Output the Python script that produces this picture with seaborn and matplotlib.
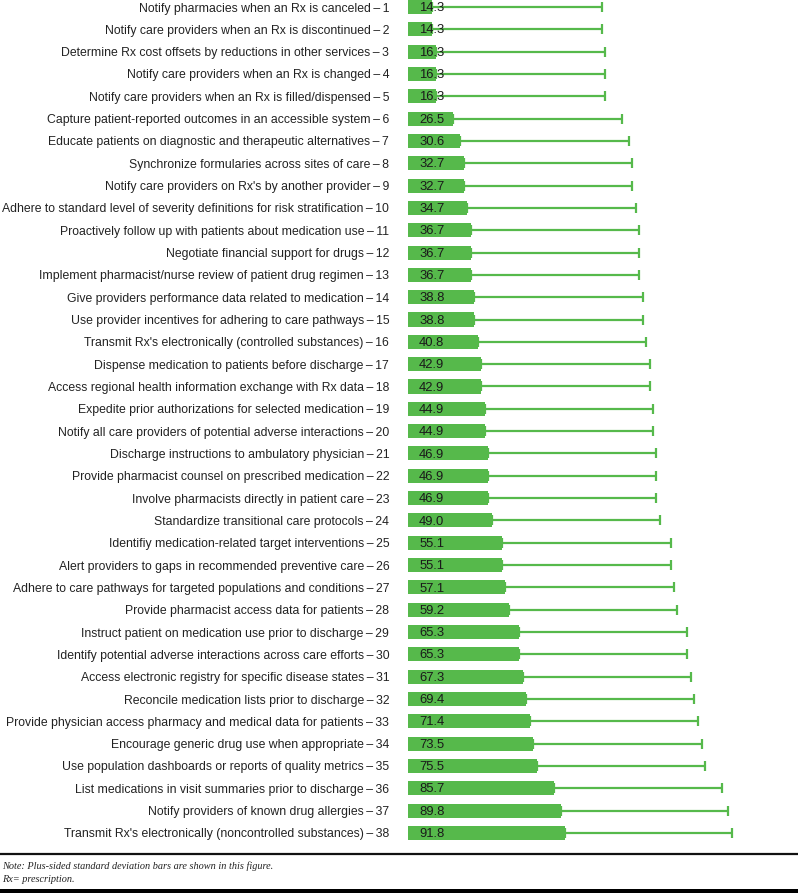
import seaborn as sns
import pandas as pd
import matplotlib.pyplot as plt

activities = [
    "Notify pharmacies when an Rx is canceled",
    "Notify care providers when an Rx is discontinued",
    "Determine Rx cost offsets by reductions in other services",
    "Notify care providers when an Rx is changed",
    "Notify care providers when an Rx is filled/dispensed",
    "Capture patient-reported outcomes in an accessible system",
    "Educate patients on diagnostic and therapeutic alternatives",
    "Synchronize formularies across sites of care",
    "Notify care providers on Rx's by another provider",
    "Adhere to standard level of severity definitions for risk stratification",
    "Proactively follow up with patients about medication use",
    "Negotiate financial support for drugs",
    "Implement pharmacist/nurse review of patient drug regimen",
    "Give providers performance data related to medication",
    "Use provider incentives for adhering to care pathways",
    "Transmit Rx's electronically (controlled substances)",
    "Dispense medication to patients before discharge",
    "Access regional health information exchange with Rx data",
    "Expedite prior authorizations for selected medication",
    "Notify all care providers of potential adverse interactions",
    "Discharge instructions to ambulatory physician",
    "Provide pharmacist counsel on prescribed medication",
    "Involve pharmacists directly in patient care",
    "Standardize transitional care protocols",
    "Identifiy medication-related target interventions",
    "Alert providers to gaps in recommended preventive care",
    "Adhere to care pathways for targeted populations and conditions",
    "Provide pharmacist access data for patients",
    "Instruct patient on medication use prior to discharge",
    "Identify potential adverse interactions across care efforts",
    "Access electronic registry for specific disease states",
    "Reconcile medication lists prior to discharge",
    "Provide physician access pharmacy and medical data for patients",
    "Encourage generic drug use when appropriate",
    "Use population dashboards or reports of quality metrics",
    "List medications in visit summaries prior to discharge",
    "Notify providers of known drug allergies",
    "Transmit Rx's electronically (noncontrolled substances)",
]
percent = [14.3, 14.3, 16.3, 16.3, 16.3, 26.5, 30.6, 32.7, 32.7, 34.7,
           36.7, 36.7, 36.7, 38.8, 38.8, 40.8, 42.9, 42.9, 44.9, 44.9,
           46.9, 46.9, 46.9, 49.0, 55.1, 55.1, 57.1, 59.2, 65.3, 65.3,
           67.3, 69.4, 71.4, 73.5, 75.5, 85.7, 89.8, 91.8]
std_dev = [99.3, 99.3, 99.2, 99.2, 99.2, 99.2, 99.0, 98.7, 98.7, 99.0,
           98.8, 98.8, 98.8, 99.2, 99.2, 98.6, 99.2, 99.2, 99.0, 99.0,
           98.7, 98.7, 98.7, 99.0, 99.0, 99.0, 99.1, 98.4, 98.3, 98.3,
           98.7, 98.5, 98.5, 98.8, 98.7, 98.3, 98.1, 98.1]

labels = [f"{a}\u2009\u2013\u2009{i + 1}" for i, a in enumerate(activities)]
df = pd.DataFrame({"label": labels, "percent": percent, "sd": std_dev})

green = "#56b94b"
sns.set_style("white")
plt.rcParams["font.family"] = ["Liberation Sans", "DejaVu Sans"]

fig = plt.figure(figsize=(7.98, 8.93), dpi=100)
W, H = 798, 893
# axes: bars start at x=408 px, rows from top to ~845 px
ax = fig.add_axes([408 / W, 1 - 845 / H, (W - 408) / W, 845 / H])

sns.barplot(data=df, x="percent", y="label", orient="h", color=green,
            width=0.63, saturation=1, linewidth=0, ax=ax)
ypos = ax.get_yticks()
ax.errorbar(df["percent"], ypos, xerr=[[0] * len(df), df["sd"]], fmt="none",
            ecolor=green, elinewidth=1.6, capsize=3.5, capthick=1.6, zorder=1)
for y, v in zip(ypos, df["percent"]):
    ax.annotate(f"{v:.1f}", xy=(0, y), xytext=(8, -0.8), textcoords="offset points",
                ha="left", va="center", fontsize=9.4, color="#1a1a1a", zorder=3)

ax.set_xlim(0, (W - 408) / 1.705)
ax.set_ylim(37.54, -0.314)
ax.set_xlabel("")
ax.set_ylabel("")
ax.set_xticks([])
ax.tick_params(axis="y", length=0, pad=13.5, labelsize=8.85, labelcolor="#222222")
sns.despine(ax=ax, left=True, bottom=True)

# rule and note below the chart
fig.add_artist(plt.Line2D([0, 1], [1 - 853.5 / H] * 2, color="#111111", lw=1.6))
fig.add_artist(plt.Rectangle((0, 0), 1, 4.5 / H, color="black", lw=0))
fig.text(2 / W, 1 - 866 / H, "Note: Plus-sided standard deviation bars are shown in this figure.",
         family=["Liberation Serif", "DejaVu Serif"], style="italic", fontsize=7.4,
         va="center", ha="left", color="#222222")
fig.text(2 / W, 1 - 880 / H, "Rx= prescription.",
         family=["Liberation Serif", "DejaVu Serif"], style="italic", fontsize=7.4,
         va="center", ha="left", color="#222222")

fig.savefig("out.png", dpi=100)
